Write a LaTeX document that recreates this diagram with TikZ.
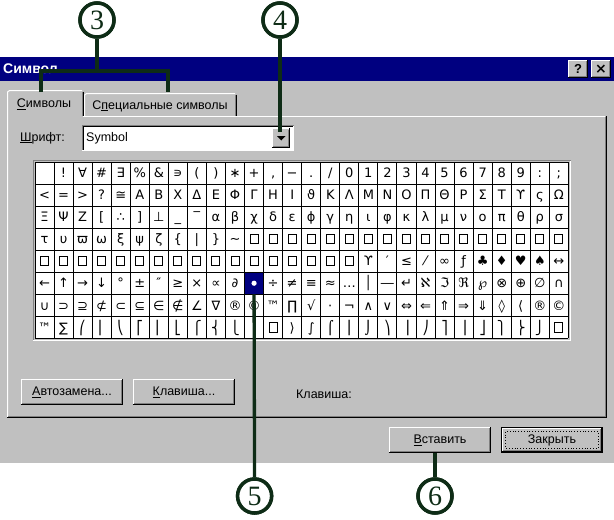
\documentclass[tikz,border=0pt]{standalone}
\usepackage{fontspec}
\setmainfont{Liberation Sans}
\newfontfamily\symfont{DejaVu Sans}
\newfontfamily\numfont{Liberation Serif}
\definecolor{winnavy}{RGB}{0,0,128}
\definecolor{wingrey}{RGB}{192,192,192}
\definecolor{windark}{RGB}{128,128,128}
\definecolor{callout}{RGB}{14,44,22}
\newcommand\bevel[1]{%
  \draw[white,line width=1pt] ([xshift=0.5pt,yshift=1pt]#1.south west) -- ([xshift=0.5pt,yshift=-0.5pt]#1.north west) -- ([xshift=-1pt,yshift=-0.5pt]#1.north east);
  \draw[black,line width=1pt] ([xshift=0pt,yshift=0.5pt]#1.south west) -- ([xshift=-0.5pt,yshift=0.5pt]#1.south east) -- ([xshift=-0.5pt,yshift=0pt]#1.north east);
  \draw[windark,line width=1pt] ([xshift=1.5pt,yshift=1.5pt]#1.south west) -- ([xshift=-1.5pt,yshift=1.5pt]#1.south east) -- ([xshift=-1.5pt,yshift=-1.5pt]#1.north east);
}
\newcommand\sunken[1]{%
  \draw[windark,line width=1pt] ([xshift=-0.5pt,yshift=-0.5pt]#1.south west) -- ([xshift=-0.5pt,yshift=0.5pt]#1.north west) -- ([xshift=0.5pt,yshift=0.5pt]#1.north east);
  \draw[black,line width=1pt] ([xshift=0.5pt,yshift=0.5pt]#1.south west) -- ([xshift=0.5pt,yshift=-0.5pt]#1.north west) -- ([xshift=-0.5pt,yshift=-0.5pt]#1.north east);
  \draw[white,line width=1pt] ([xshift=0.5pt,yshift=-0.5pt]#1.north east) -- ([xshift=0.5pt,yshift=-0.5pt]#1.south east) -- ([xshift=-0.5pt,yshift=-0.5pt]#1.south west);
}
\begin{document}
\begin{tikzpicture}[x=1pt,y=-1pt,
  ui/.style={font=\fontsize{12.5}{14}\selectfont, inner sep=0pt},
  gl/.style={font=\symfont\fontsize{13}{15}\selectfont, inner sep=0pt, text height=12.5pt, text depth=3pt},
  callnum/.style={circle, draw=callout, line width=3.5pt, fill=white, minimum size=34pt, inner sep=0pt, font=\numfont\fontsize{28}{28}\selectfont, text=callout},
  lead/.style={draw=callout, line width=3.3pt, line join=miter},
  btnface/.style={fill=wingrey, inner sep=0pt, minimum width=102pt, minimum height=26pt, font=\fontsize{12.5}{14}\selectfont},
  boxglyph/.style={draw=black, line width=1pt, minimum width=8pt, minimum height=9.5pt, inner sep=0pt}
]
\def\cw{19.05}
\def\rh{22.04}
\useasboundingbox (0,0) rectangle (614,520);
\fill[white] (0,0) rectangle (614,520);
% title bar and dialog
\fill[winnavy] (0,57) rectangle (614,81);
\fill[wingrey] (0,81) rectangle (614,463);
\node[anchor=west, text=white, font=\bfseries\fontsize{14}{16}\selectfont, inner sep=0pt] (title) at (3,69) {Символ};
\node[fill=wingrey, minimum width=20pt, minimum height=18pt, inner sep=0pt, font=\bfseries\fontsize{13}{13}\selectfont] (help) at (578,69) {?};
\bevel{help}
\node[fill=wingrey, minimum width=20pt, minimum height=18pt, inner sep=0pt, font=\symfont\bfseries\fontsize{14}{14}\selectfont] (closex) at (601,69) {×};
\bevel{closex}
% tabs and panel
\draw[white,line width=1pt] (7.5,417) -- (7.5,92) -- (9.5,90.5) -- (82,90.5);
\draw[windark,line width=1pt] (82.5,92) -- (82.5,116);
\draw[black,line width=1pt] (83.5,91.5) -- (83.5,116);
\draw[white,line width=1pt] (84.5,116) -- (84.5,95) -- (86.5,93.5) -- (235,93.5);
\draw[windark,line width=1pt] (235.5,95) -- (235.5,116);
\draw[black,line width=1pt] (236.5,94.5) -- (236.5,116);
\draw[white,line width=1pt] (83,116.5) -- (605,116.5);
\draw[windark,line width=1pt] (605.5,117) -- (605.5,416.5) -- (8,416.5);
\draw[black,line width=1pt] (606.5,116) -- (606.5,417.5) -- (7,417.5);
\node[ui] (tab1) at (44,104) {\underline{С}имволы};
\node[ui] (tab2) at (160,106) {С\underline{п}ециальные символы};
% font combo
\node[ui, anchor=west] (fontlbl) at (20,138) {\underline{Ш}рифт:};
\node[fill=white, minimum width=210pt, minimum height=24pt, inner sep=0pt] (fontbox) at (188,138) {};
\sunken{fontbox}
\node[ui, anchor=west] (fontname) at (86,138) {Symbol};
\node[fill=wingrey, minimum width=18pt, minimum height=19pt, inner sep=0pt] (dd) at (281,138) {};
\bevel{dd}
\fill[black] (277,136) -- (285.5,136) -- (281.25,140.5) -- cycle;
% grid
\fill[white] (35,162) rectangle (35+28*\cw,162+8*\rh);
\node[fill=winnavy, minimum width=\cw pt, minimum height=\rh pt, inner sep=0pt] (sel) at (35+11.5*\cw,162+5.5*\rh) {};
\fill[white] (sel.center) circle (2.6pt);
\foreach \i in {0,...,28} \draw[black,line width=1pt] (35+\i*\cw,162) -- (35+\i*\cw,162+8*\rh);
\foreach \j in {0,...,8} \draw[black,line width=1pt] (35,162+\j*\rh) -- (35+28*\cw,162+\j*\rh);
\draw[windark,line width=1pt] (33.5,341) -- (33.5,160.5) -- (570.5,160.5);
\draw[white,line width=1pt] (570.5,160.5) -- (570.5,340.5) -- (33,340.5);
\foreach \g [count=\i] in {{},!,∀,\#,∃,\%,\&,∍,{(},{)},∗,+,{,},−,.,/,0,1,2,3,4,5,6,7,8,9,:,;}
  \node[gl] (ra\i) at (35+\i*\cw-0.5*\cw,162+0.5*\rh) {\g};
\foreach \g [count=\i] in {<,=,>,?,≅,Α,Β,Χ,Δ,Ε,Φ,Γ,Η,Ι,ϑ,Κ,Λ,Μ,Ν,Ο,Π,Θ,Ρ,Σ,Τ,ϒ,ς,Ω}
  \node[gl] (rb\i) at (35+\i*\cw-0.5*\cw,162+1.5*\rh) {\g};
\foreach \g [count=\i] in {Ξ,Ψ,Ζ,{[},∴,{]},⊥,\_,‾,α,β,χ,δ,ε,ϕ,γ,η,ι,φ,κ,λ,μ,ν,ο,π,θ,ρ,σ}
  \node[gl] (rc\i) at (35+\i*\cw-0.5*\cw,162+2.5*\rh) {\g};
\foreach \g [count=\i] in {τ,υ,ϖ,ω,ξ,ψ,ζ,\{,|,\},∼}
  \node[gl] (rd\i) at (35+\i*\cw-0.5*\cw,162+3.5*\rh) {\g};
\foreach \i in {12,...,28}
  \node[boxglyph] (rd\i) at (35+\i*\cw-0.5*\cw,162+3.5*\rh) {};
\foreach \i in {1,...,17}
  \node[boxglyph] (re\i) at (35+\i*\cw-0.5*\cw,162+4.5*\rh) {};
\foreach \g [count=\i from 18] in {ϒ,′,≤,⁄,∞,ƒ,♣,♦,♥,♠,↔}
  \node[gl] (re\i) at (35+\i*\cw-0.5*\cw,162+4.5*\rh) {\g};
\foreach \g [count=\i] in {←,↑,→,↓,°,±,″,≥,×,∝,∂,{},÷,≠,≡,≈,…,│,―,↵,ℵ,ℑ,ℜ,℘,⊗,⊕,∅,∩}
  \node[gl] (rf\i) at (35+\i*\cw-0.5*\cw,162+5.5*\rh) {\g};
\foreach \g [count=\i] in {∪,⊃,⊇,⊄,⊂,⊆,∈,∉,∠,∇,®,©,™,∏,√,⋅,¬,∧,∨,⇔,⇐,⇑,⇒,⇓,◊,⟨,®,©}
  \node[gl] (rg\i) at (35+\i*\cw-0.5*\cw,162+6.5*\rh) {\g};
\foreach \g [count=\i] in {™,∑,⎛,⎜,⎝,⎡,⎢,⎣,⎧,⎨,⎩,⎪,{},⟩,∫,⌠,⎮,⌡,⎞,⎟,⎠,⎤,⎥,⎦,⎫,⎬,⎭,{}}
  \node[gl] (rh\i) at (35+\i*\cw-0.5*\cw,162+7.5*\rh) {\g};
\node[boxglyph] (rhb13) at (35+12.5*\cw,162+7.5*\rh) {};
\node[boxglyph] (rhb28) at (35+27.5*\cw,162+7.5*\rh) {};
% buttons
\node[btnface] (auto) at (72,392) {\underline{А}втозамена...};
\bevel{auto}
\node[btnface] (keyb) at (184,392) {\underline{К}лавиша...};
\bevel{keyb}
\node[ui, anchor=west] (keylbl) at (296,394) {Клавиша:};
\node[btnface] (ins) at (440,440) {\underline{В}ставить};
\bevel{ins}
\node[btnface, minimum width=100pt, minimum height=24pt] (close) at (552,440) {Закрыть};
\bevel{close}
\draw[black,line width=1pt] ([xshift=-0.5pt,yshift=0.5pt]close.north west) rectangle ([xshift=0.5pt,yshift=-0.5pt]close.south east);
\draw[black,dotted,line width=0.8pt] ([xshift=4pt,yshift=-4pt]close.north west) rectangle ([xshift=-4pt,yshift=4pt]close.south east);
% callouts
\coordinate (j3) at (97,71);
\coordinate (t1top) at (41,92);
\coordinate (t2top) at (168,92);
\coordinate (d4) at (280,132);
\node[callnum] (c3) at (97,20) {3};
\node[callnum] (c4) at (280,20) {4};
\node[callnum] (c5) at (254.6,496) {5};
\node[callnum] (c6) at (435,496) {6};
\draw[lead] (c3) -- (j3);
\draw[lead] (t1top) |- (j3) -| (t2top);
\draw[lead] (c4) -- (d4);
\draw[lead] (sel.south) -- (c5);
\draw[lead] (c6) -- (c6 |- ins.south);
\node[callnum] at (c3) {3};
\node[callnum] at (c4) {4};
\node[callnum] at (c5) {5};
\node[callnum] at (c6) {6};
\end{tikzpicture}
\end{document}
